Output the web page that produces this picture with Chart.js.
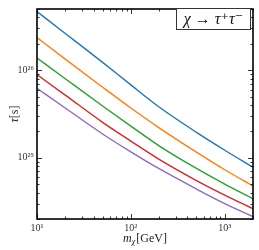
<!DOCTYPE html>
<html>
<head>
<meta charset="utf-8">
<script src="https://cdn.jsdelivr.net/npm/chart.js@4.4.1/dist/chart.umd.min.js"></script>
<style>
  html, body { margin: 0; padding: 0; background: #fff; }
  #wrap { width: 259px; height: 250px; }
</style>
</head>
<body>
<div id="wrap"><canvas id="c"></canvas></div>
<script>
// masses in GeV, lifetimes in s
const masses = [10, 20, 50, 100, 200, 500, 1000, 2000];
const curve1 = [4.67e26, 2.63e26, 1.23e26, 6.8e25, 3.8e25, 1.95e25, 1.22e25, 7.8e24];
const curve2 = [2.36e26, 1.34e26, 6.4e25, 3.7e25, 2.2e25, 1.16e25, 7.3e24, 4.76e24];
const curve3 = [1.38e26, 8.0e25, 3.9e25, 2.3e25, 1.37e25, 7.55e24, 5.0e24, 3.4e24];
const curve4 = [8.9e25, 5.2e25, 2.54e25, 1.55e25, 9.6e24, 5.5e24, 3.75e24, 2.62e24];
const curve5 = [6.23e25, 3.7e25, 1.87e25, 1.17e25, 7.5e24, 4.4e24, 3.0e24, 2.13e24];
const xTicks = [10, 100, 1000];
const xTickLabels = ['10¹', '10²', '10³'];
const yTicks = [1e25, 1e26];
const yTickLabels = ['10²⁵', '10²⁶'];
const colors = ['#1f77b4', '#ff7f0e', '#2ca02c', '#d62728', '#9467bd'];
const serif = '"Liberation Serif", "DejaVu Serif", serif';

const curves = [curve1, curve2, curve3, curve4, curve5];

// inward ticks on all four sides, frame, axis titles and the label box
const decor = {
  id: 'decor',
  afterDatasetsDraw(chart) {
    const ctx = chart.ctx;
    const a = chart.chartArea;
    const xs = chart.scales.x, ys = chart.scales.y;
    ctx.save();
    ctx.strokeStyle = '#000';
    ctx.lineWidth = 0.8;
    const minorX = [], minorY = [];
    for (let d = 1; d <= 3; d++) for (let k = 2; k <= 9; k++) minorX.push(k * Math.pow(10, d));
    for (let d = 24; d <= 26; d++) for (let k = 2; k <= 9; k++) minorY.push(k * Math.pow(10, d));
    const tickX = (v, len) => {
      if (v < xs.min || v > xs.max) return;
      const p = Math.round(xs.getPixelForValue(v)) + 0.5;
      ctx.beginPath();
      ctx.moveTo(p, a.bottom); ctx.lineTo(p, a.bottom - len);
      ctx.moveTo(p, a.top); ctx.lineTo(p, a.top + len);
      ctx.stroke();
    };
    const tickY = (v, len) => {
      if (v < ys.min || v > ys.max) return;
      const p = Math.round(ys.getPixelForValue(v)) + 0.5;
      ctx.beginPath();
      ctx.moveTo(a.left, p); ctx.lineTo(a.left + len, p);
      ctx.moveTo(a.right, p); ctx.lineTo(a.right - len, p);
      ctx.stroke();
    };
    minorX.forEach(v => tickX(v, 2.5));
    xTicks.forEach(v => tickX(v, 5));
    minorY.forEach(v => tickY(v, 2.5));
    yTicks.forEach(v => tickY(v, 5));

    ctx.lineWidth = 1.6;
    ctx.strokeRect(a.left, a.top, a.right - a.left, a.bottom - a.top);

    // label box
    ctx.fillStyle = '#fff';
    ctx.strokeStyle = '#333';
    ctx.lineWidth = 1;
    ctx.fillRect(176.5, 8.5, 74, 21);
    ctx.strokeRect(176.5, 8.5, 74, 21);
    ctx.fillStyle = '#111';
    ctx.font = 'italic 16px ' + serif;
    ctx.textAlign = 'center';
    ctx.textBaseline = 'middle';
    ctx.fillText('χ → τ⁺τ⁻', 213.5, 19.5);

    // axis titles
    ctx.fillStyle = '#222';
    ctx.textBaseline = 'alphabetic';
    ctx.textAlign = 'left';
    ctx.font = 'italic 12px ' + serif;
    const w1 = ctx.measureText('m').width;
    ctx.font = 'italic 8px ' + serif;
    const w2 = ctx.measureText('χ').width;
    ctx.font = '12px ' + serif;
    const w3 = ctx.measureText('[GeV]').width;
    let x0 = (a.left + a.right) / 2 - (w1 + w2 + 1 + w3) / 2;
    const by = 242;
    ctx.font = 'italic 12px ' + serif;
    ctx.fillText('m', x0, by);
    ctx.font = 'italic 8px ' + serif;
    ctx.fillText('χ', x0 + w1, by + 2);
    ctx.font = '12px ' + serif;
    ctx.fillText('[GeV]', x0 + w1 + w2 + 1, by);

    ctx.translate(18, (a.top + a.bottom) / 2);
    ctx.rotate(-Math.PI / 2);
    ctx.textAlign = 'center';
    ctx.font = 'italic 12px ' + serif;
    const t1 = ctx.measureText('τ').width;
    ctx.font = '12px ' + serif;
    const t2 = ctx.measureText('[s]').width;
    ctx.textAlign = 'left';
    ctx.font = 'italic 12px ' + serif;
    ctx.fillText('τ', -(t1 + t2) / 2, 0);
    ctx.font = '12px ' + serif;
    ctx.fillText('[s]', -(t1 + t2) / 2 + t1, 0);
    ctx.restore();
  }
};

new Chart(document.getElementById('c'), {
  type: 'line',
  data: {
    labels: masses,
    datasets: curves.map((vals, i) => ({
      data: masses.map((m, j) => ({ x: m, y: vals[j] })),
      borderColor: colors[i],
      borderWidth: 1.4,
      pointRadius: 0,
      fill: false,
      cubicInterpolationMode: 'monotone'
    }))
  },
  options: {
    responsive: true,
    maintainAspectRatio: false,
    animation: false,
    events: [],
    layout: { padding: { left: 0, top: 4, right: 6, bottom: 0 } },
    plugins: { legend: { display: false }, tooltip: { enabled: false } },
    scales: {
      x: {
        type: 'logarithmic',
        min: 10,
        max: 2000,
        afterBuildTicks: s => { s.ticks = xTicks.map(v => ({ value: v })); },
        afterFit: s => { s.height = 31; },
        grid: { display: false, drawTicks: false },
        border: { display: false },
        ticks: {
          autoSkip: false,
          maxRotation: 0,
          padding: 3,
          color: '#333',
          font: { family: serif, size: 10 },
          callback: v => xTickLabels[xTicks.indexOf(v)] || ''
        }
      },
      y: {
        type: 'logarithmic',
        min: 2e24,
        max: 5e26,
        afterBuildTicks: s => { s.ticks = yTicks.map(v => ({ value: v })); },
        afterFit: s => { s.width = 37; },
        grid: { display: false, drawTicks: false },
        border: { display: false },
        ticks: {
          autoSkip: false,
          padding: 3,
          color: '#333',
          font: { family: serif, size: 10 },
          callback: v => yTickLabels[yTicks.indexOf(v)] || ''
        }
      }
    }
  },
  plugins: [decor]
});
</script>
</body>
</html>
